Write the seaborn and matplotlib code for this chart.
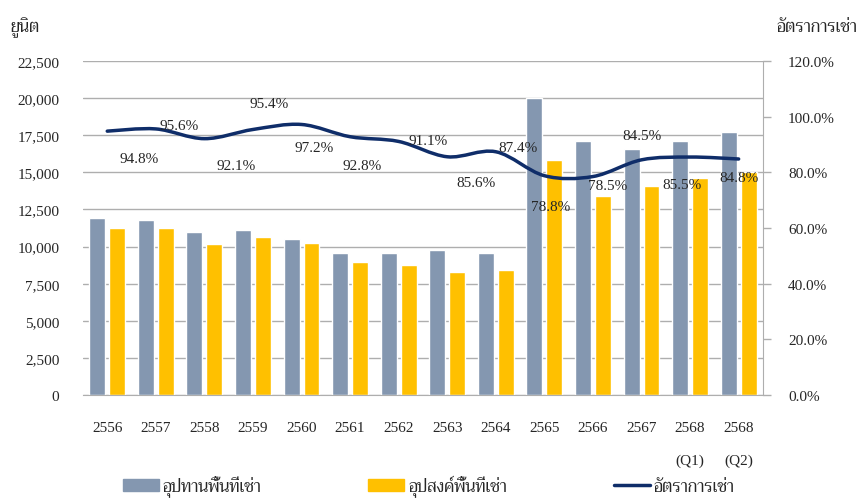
import numpy as np
import pandas as pd
import seaborn as sns
import matplotlib.pyplot as plt
from matplotlib.path import Path
from matplotlib.patches import PathPatch, Patch
from matplotlib.lines import Line2D
from matplotlib.ticker import MultipleLocator, FuncFormatter

# ข้อมูล
years = ['2556', '2557', '2558', '2559', '2560', '2561', '2562', '2563',
         '2564', '2565', '2566', '2567', '2568\n(Q1)', '2568\n(Q2)']
supply = [11900, 11800, 10950, 11150, 10500, 9600, 9600, 9750,
          9600, 20000, 17100, 16600, 17100, 17750]
demand = [11250, 11250, 10150, 10650, 10250, 8950, 8750, 8300,
          8400, 15800, 13400, 14050, 14650, 15050]
occupancy = [94.8, 95.6, 92.1, 95.4, 97.2, 92.8, 91.1, 85.6,
             87.4, 78.8, 78.5, 84.5, 85.5, 84.8]

supply_name = 'อุปทานพื้นที่เช่า'
demand_name = 'อุปสงค์พื้นที่เช่า'
rate_name = 'อัตราการเช่า'

# ตำแหน่งป้ายตัวเลข (วางเองแบบในกราฟต้นฉบับ)
label_dx = [0.66, 0.48, 0.65, 0.33, 0.25, 0.24, 0.61, 0.6,
            0.46, 0.12, 0.31, 0.0, -0.17, 0.0]
label_y = [84.8, 96.7, 82.6, 104.6, 88.8, 82.3, 91.3, 76.5,
           89.1, 67.9, 75.1, 93.1, 75.8, 78.0]

grey_col = '#8497B0'
yellow_col = '#FFC000'
line_col = '#0F2D69'
grid_col = '#AEAEAE'

sns.set_style('white')
plt.rcParams['font.family'] = ['Liberation Serif', 'Trirong']
plt.rcParams['font.size'] = 11

df = pd.DataFrame({'year': years * 2,
                   'value': supply + demand,
                   'series': [supply_name] * len(years) + [demand_name] * len(years)})

fig = plt.figure(figsize=(8.58, 5.02), dpi=100)
ax = fig.add_axes([0.0967, 0.211, 0.7925, 0.6655])

sns.barplot(data=df, x='year', y='value', hue='series', order=years,
            palette=[grey_col, yellow_col], width=0.82, gap=0.2,
            saturation=1, legend=False, ax=ax)
ax.set_xlim(-0.5, 13.5)
ax.set_ylim(0, 22500)
ax.yaxis.set_major_locator(MultipleLocator(2500))
ax.yaxis.set_major_formatter(FuncFormatter(lambda v, p: f'{v:,.0f}'))
ax.set_axisbelow(True)
ax.yaxis.grid(True, color=grid_col, lw=1)
ax.set_xlabel('')
ax.set_ylabel('')
for s in ['left', 'top', 'right']:
    ax.spines[s].set_visible(False)
ax.spines['bottom'].set_color(grid_col)
ax.tick_params(axis='y', length=0, pad=17, labelsize=11)
ax.tick_params(axis='x', length=0, pad=19, labelsize=11)
for lab in ax.get_xticklabels():
    lab.set_linespacing(2.8)
    lab.set_verticalalignment('top')

# แกนขวา อัตราการเช่า
ax2 = ax.twinx()
ax2.set_ylim(0, 120)
ax2.yaxis.set_major_locator(MultipleLocator(20))
ax2.yaxis.set_major_formatter(FuncFormatter(lambda v, p: f'{v:.1f}%'))
for s in ['left', 'top', 'bottom']:
    ax2.spines[s].set_visible(False)
ax2.spines['right'].set_color(grid_col)
ax2.tick_params(axis='y', direction='out', length=6, width=1, color=grid_col,
                pad=12, labelsize=11)
ax2.grid(False)

# เส้นโค้งแบบ smooth
pts = np.column_stack([np.arange(len(occupancy)), occupancy]).astype(float)
verts = [pts[0]]
codes = [Path.MOVETO]
n = len(pts)
for i in range(n - 1):
    p0 = pts[max(i - 1, 0)]
    p1 = pts[i]
    p2 = pts[i + 1]
    p3 = pts[min(i + 2, n - 1)]
    verts += [p1 + (p2 - p0) / 6, p2 - (p3 - p1) / 6, p2]
    codes += [Path.CURVE4] * 3
ax2.add_patch(PathPatch(Path(verts, codes), fill=False, edgecolor=line_col, lw=2.5,
                        capstyle='round', zorder=3))

for i, v in enumerate(occupancy):
    ax2.text(i + label_dx[i], label_y[i], f'{v:.1f}%', ha='center', va='center',
             fontsize=11, zorder=4)

fig.text(0.012, 0.944, 'ยูนิต', ha='left', va='center', fontsize=12)
fig.text(0.999, 0.944, rate_name, ha='right', va='center', fontsize=12)

handles = [Patch(color=grey_col), Patch(color=yellow_col),
           Line2D([0], [0], color=line_col, lw=2.5)]
fig.legend(handles, [supply_name, demand_name, rate_name], loc='center',
           bbox_to_anchor=(0.4995, 0.03), ncol=3, frameon=False,
           handlelength=2.16, handleheight=0.75, handletextpad=0.24,
           columnspacing=6.4, fontsize=12, borderpad=0.2)

fig.savefig('out.png', dpi=100)
